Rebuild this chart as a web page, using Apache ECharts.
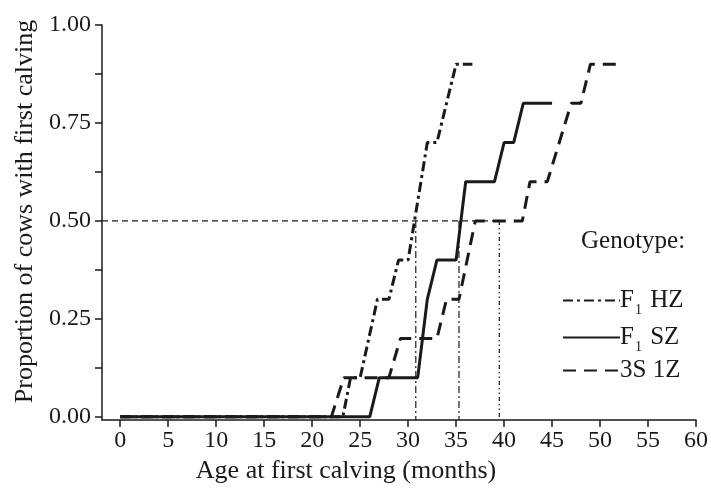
<!DOCTYPE html>
<html>
<head>
<meta charset="utf-8">
<script src="https://cdn.jsdelivr.net/npm/echarts@6/dist/echarts.min.js"></script>
<style>
  html, body { margin: 0; padding: 0; background: #fff; }
  #chart { width: 711px; height: 491px; }
</style>
</head>
<body>
<div id="chart"></div>
<script>
// step curves: age (months) and proportion calved
const hzAge = [0, 23.2, 24, 25, 26.8, 28, 29, 30, 32, 33, 35, 36.7]
const hzProp = [0, 0, 0.1, 0.1, 0.3, 0.3, 0.4, 0.4, 0.7, 0.7, 0.9, 0.9]

const szAge = [0, 26, 27, 31, 32, 33, 35, 36, 39, 40, 41, 42, 45]
const szProp = [0, 0, 0.1, 0.1, 0.3, 0.4, 0.4, 0.6, 0.6, 0.7, 0.7, 0.8, 0.8]

const s1zAge = [0, 22, 23.3, 28, 29.2, 33, 34, 35.3, 37, 41.9, 42.7, 44.5, 47, 48, 49, 52.2]
const s1zProp = [0, 0, 0.1, 0.1, 0.2, 0.2, 0.3, 0.3, 0.5, 0.5, 0.6, 0.6, 0.8, 0.8, 0.9, 0.9]

// median ages (where each curve reaches 0.50)
const medianLevel = 0.5
const medianAges = [30.8, 35.3, 39.5]

const xTicks = [0, 5, 10, 15, 20, 25, 30, 35, 40, 45, 50, 55, 60]
const yLabels = [0, 0.25, 0.5, 0.75, 1]
const yTicks = [0, 0.125, 0.25, 0.375, 0.5, 0.625, 0.75, 0.875, 1]

const xMin = -1.9
const yMin = -0.008

const serif = '"Liberation Serif", "Times New Roman", serif'
const ink = '#1a1a1a'

function zip(xs, ys) {
  return xs.map((x, i) => [x, ys[i]])
}

const subNames = {
  'F1 HZ': '{a|F}{s|1}{a| HZ}',
  'F1 SZ': '{a|F}{s|1}{a| SZ}',
  '3S 1Z': '{a|3S 1Z}'
}

const curveStyle = (type) => ({ color: ink, width: 3, type: type })
const refStyle = (type) => ({ color: ink, width: 1.2, type: type })

const chart = echarts.init(document.getElementById('chart'), null, { renderer: 'canvas' })

const series = [
  {
    name: 'F1 HZ',
    type: 'line',
    data: zip(hzAge, hzProp),
    showSymbol: false,
    symbol: 'none',
    itemStyle: { color: ink },
    lineStyle: curveStyle([10, 4, 3, 4]),
    z: 3
  },
  {
    name: 'F1 SZ',
    type: 'line',
    data: zip(szAge, szProp),
    showSymbol: false,
    symbol: 'none',
    itemStyle: { color: ink },
    lineStyle: curveStyle('solid'),
    z: 3
  },
  {
    name: '3S 1Z',
    type: 'line',
    data: zip(s1zAge, s1zProp),
    showSymbol: false,
    symbol: 'none',
    itemStyle: { color: ink },
    lineStyle: curveStyle([13, 8]),
    z: 3
  },
  {
    name: 'median-h',
    type: 'line',
    data: [[xMin, medianLevel], [medianAges[2], medianLevel]],
    symbol: 'none',
    silent: true,
    lineStyle: refStyle([6, 4]),
    z: 2
  }
]

medianAges.forEach((age, i) => {
  series.push({
    name: 'median-v' + i,
    type: 'line',
    data: [[age, medianLevel], [age, yMin]],
    symbol: 'none',
    silent: true,
    lineStyle: refStyle(i === 2 ? [4, 3, 1.5, 3, 1.5, 3] : [7, 3, 2, 3]),
    z: 2
  })
})

chart.setOption({
  animation: false,
  backgroundColor: '#fff',
  textStyle: { fontFamily: serif, color: ink },
  grid: { left: 102, right: 13.7, top: 25, bottom: 71, containLabel: false },
  title: {
    text: 'Genotype:',
    left: 576,
    top: 224,
    textStyle: { fontFamily: serif, fontWeight: 'normal', fontSize: 25, color: ink }
  },
  legend: {
    data: ['F1 HZ', 'F1 SZ', '3S 1Z'],
    orient: 'vertical',
    left: 557,
    top: 279,
    itemWidth: 57,
    itemHeight: 14,
    itemGap: 4,
    selectedMode: false,
    itemStyle: { opacity: 0 },
    formatter: (name) => subNames[name],
    textStyle: {
      fontFamily: serif,
      fontSize: 25,
      color: ink,
      padding: [0, 0, 0, -5],
      rich: {
        a: { fontFamily: serif, fontSize: 25, color: ink, lineHeight: 28 },
        s: { fontFamily: serif, fontSize: 14, color: ink, lineHeight: 28, padding: [19, 2, 0, 1] }
      }
    }
  },
  xAxis: {
    type: 'value',
    min: xMin,
    max: 60,
    name: 'Age at first calving (months)',
    nameLocation: 'middle',
    nameGap: 37,
    nameTextStyle: { fontFamily: serif, fontSize: 26, color: ink, padding: [0, 106, 0, 0] },
    splitLine: { show: false },
    axisLine: { onZero: false, lineStyle: { color: ink, width: 1.5 } },
    axisTick: { customValues: xTicks, length: 7, lineStyle: { color: ink, width: 1.5 } },
    axisLabel: { customValues: xTicks, margin: 9, fontFamily: serif, fontSize: 24, color: ink }
  },
  yAxis: {
    type: 'value',
    min: yMin,
    max: 1,
    name: 'Proportion of cows with first calving',
    nameLocation: 'middle',
    nameGap: 62,
    nameTextStyle: { fontFamily: serif, fontSize: 26, color: ink, padding: [0, 0, 0, 22] },
    splitLine: { show: false },
    axisLine: { show: true, onZero: false, lineStyle: { color: ink, width: 1.5 } },
    axisTick: { show: true, customValues: yTicks, length: 7, lineStyle: { color: ink, width: 1.5 } },
    axisLabel: {
      customValues: yLabels,
      margin: 11,
      fontFamily: serif,
      fontSize: 24,
      color: ink,
      formatter: (v) => v.toFixed(2)
    }
  },
  series: series
})
</script>
</body>
</html>
